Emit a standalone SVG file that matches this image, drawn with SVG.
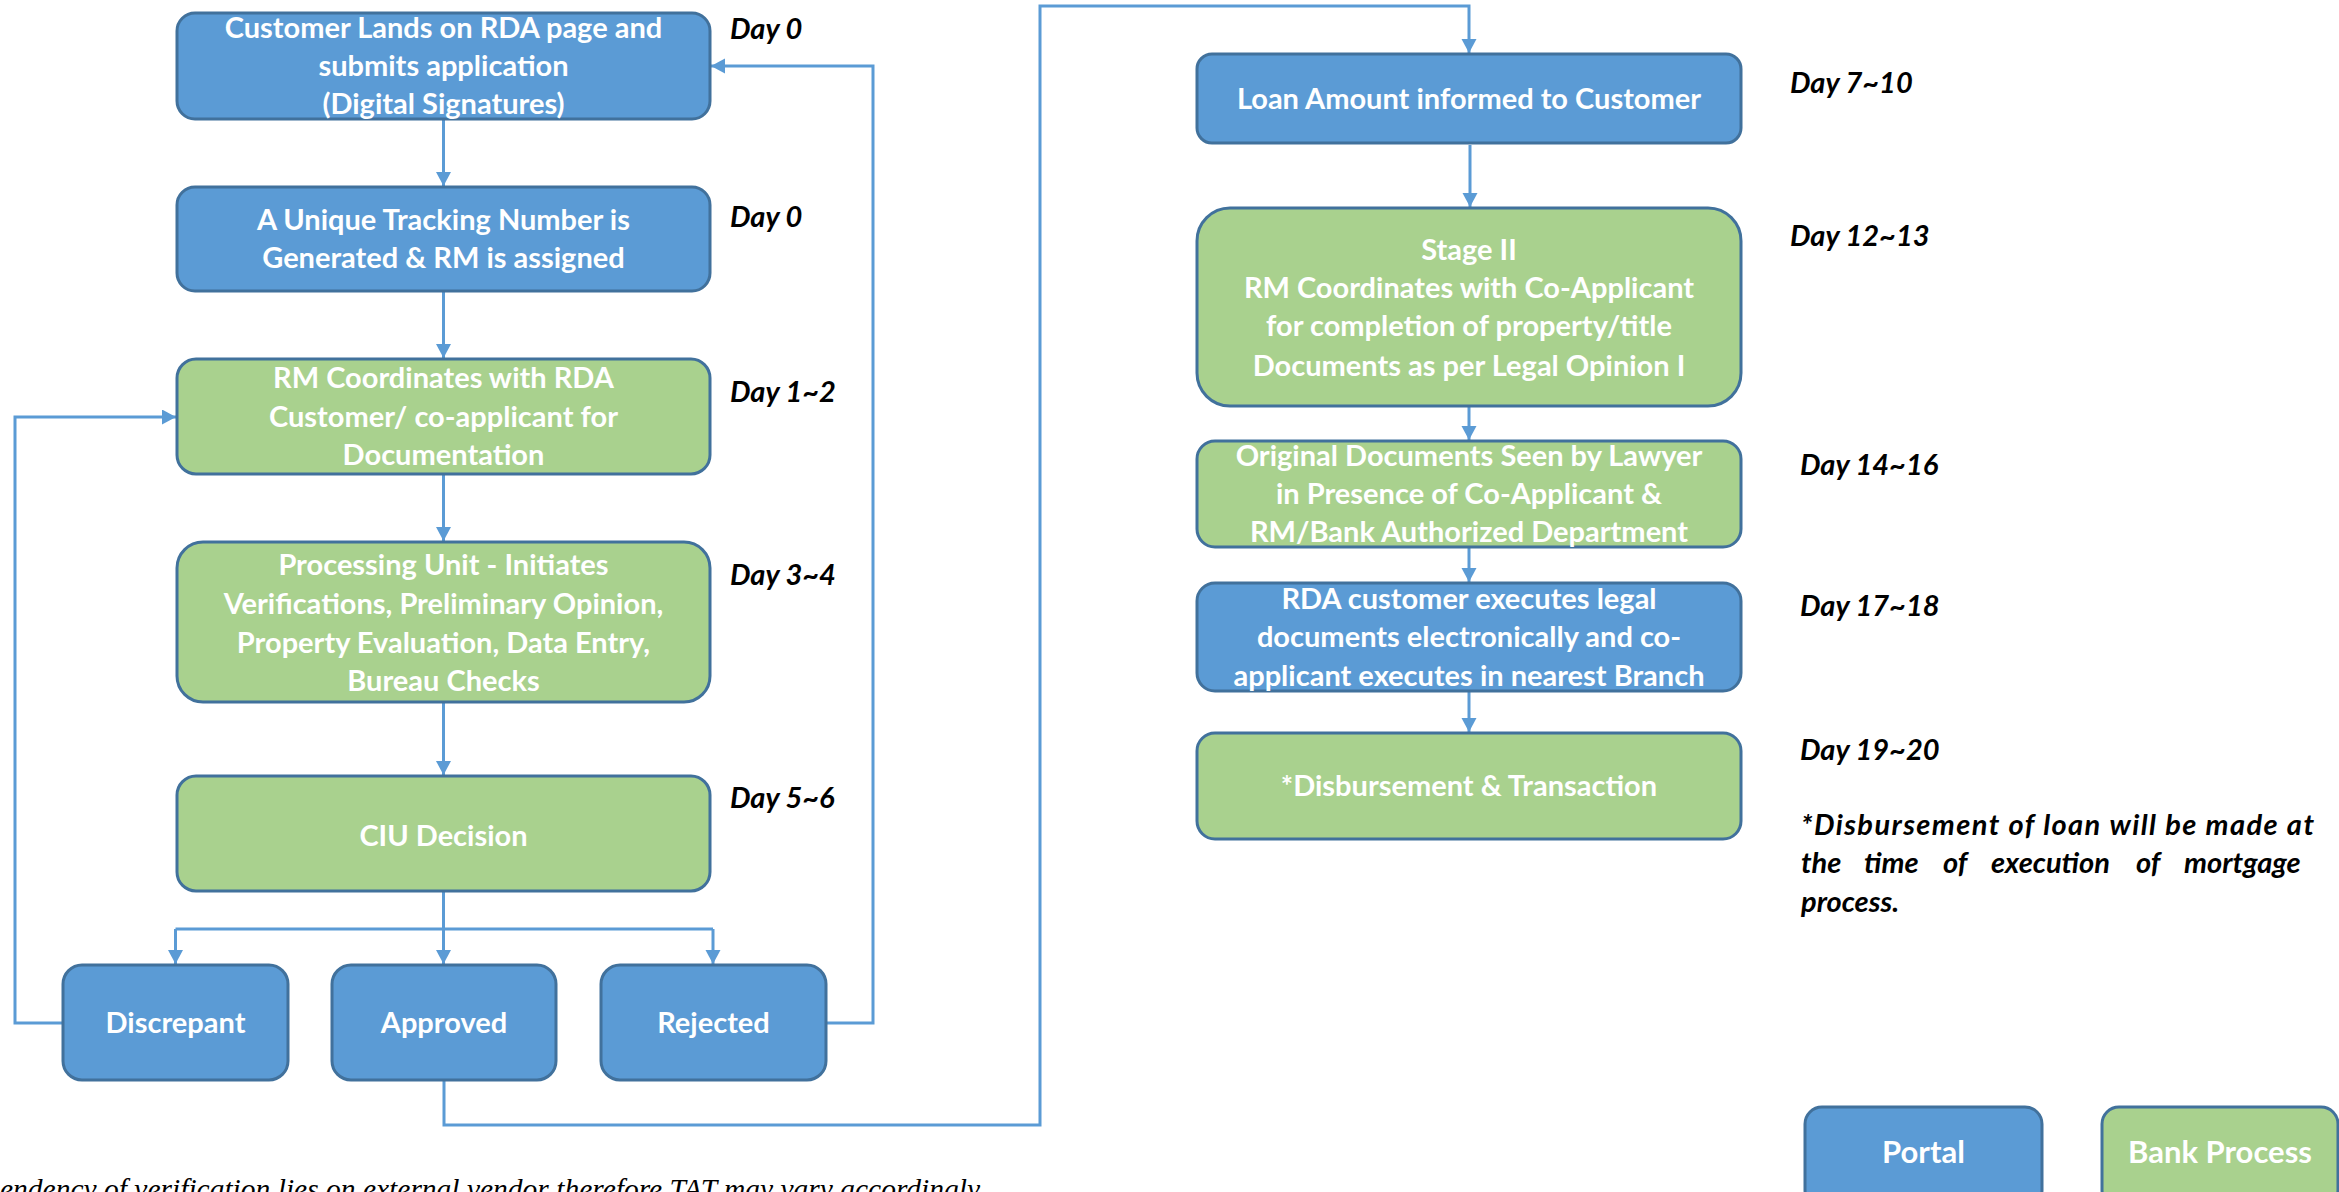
<svg xmlns="http://www.w3.org/2000/svg" width="2339" height="1192" viewBox="0 0 2339 1192">
<defs>
<style>
.blue{fill:#5B9BD5;stroke:#41719C;stroke-width:3}
.green{fill:#A9D18E;stroke:#41719C;stroke-width:3}
.bt{font-family:Lato,"Open Sans","Liberation Sans",sans-serif;font-weight:bold;font-size:29px;fill:#fff;text-anchor:middle}
.lg{font-size:31px}
.day{font-family:Lato,"Open Sans","Liberation Sans",sans-serif;font-weight:bold;font-style:italic;font-size:29px;fill:#000}
.foot{font-family:"Liberation Serif",serif;font-style:italic;font-size:29.5px;fill:#000}
.con{fill:none;stroke:#5B9BD5;stroke-width:3}
</style>
<marker id="ah" markerUnits="userSpaceOnUse" markerWidth="16" markerHeight="16" refX="14" refY="7.5" orient="auto">
<path d="M0,0 L14,7.5 L0,15 z" fill="#5B9BD5"/>
</marker>
</defs>
<rect width="2339" height="1192" fill="#fff"/>

<g id="connectors">
<path class="con" d="M443.5,119 V186" marker-end="url(#ah)"/>
<path class="con" d="M443.5,291 V358" marker-end="url(#ah)"/>
<path class="con" d="M443.5,474 V541" marker-end="url(#ah)"/>
<path class="con" d="M443.5,702 V775" marker-end="url(#ah)"/>
<path class="con" d="M443.5,891 V929"/>
<path class="con" d="M175.5,929 H713"/>
<path class="con" d="M175.5,929 V964" marker-end="url(#ah)"/>
<path class="con" d="M443.5,929 V964" marker-end="url(#ah)"/>
<path class="con" d="M713,929 V964" marker-end="url(#ah)"/>
<path class="con" d="M63,1023 H15 V417 H176" marker-end="url(#ah)"/>
<path class="con" d="M826,1023 H873 V66 H711" marker-end="url(#ah)"/>
<path class="con" d="M444,1080 V1125 H1040 V6 H1469 V53" marker-end="url(#ah)"/>
<path class="con" d="M1470,145 V207" marker-end="url(#ah)"/>
<path class="con" d="M1469,406 V440" marker-end="url(#ah)"/>
<path class="con" d="M1469,547 V582" marker-end="url(#ah)"/>
<path class="con" d="M1469,691 V732" marker-end="url(#ah)"/>
</g>

<g id="n1">
<rect class="blue" x="177" y="13" width="533" height="106" rx="18"/>
<text class="bt" x="443.5" y="38">Customer Lands on RDA page and</text>
<text class="bt" x="443.5" y="76">submits application</text>
<text class="bt" x="443.5" y="114">(Digital Signatures)</text>
</g>
<g id="n2">
<rect class="blue" x="177" y="187" width="533" height="104" rx="18"/>
<text class="bt" x="443.5" y="230">A Unique Tracking Number is</text>
<text class="bt" x="443.5" y="268">Generated &amp; RM is assigned</text>
</g>
<g id="n3">
<rect class="green" x="177" y="359" width="533" height="115" rx="19"/>
<text class="bt" x="443.5" y="388">RM Coordinates with RDA</text>
<text class="bt" x="443.5" y="427">Customer/ co-applicant for</text>
<text class="bt" x="443.5" y="465">Documentation</text>
</g>
<g id="n4">
<rect class="green" x="177" y="542" width="533" height="160" rx="26"/>
<text class="bt" x="443.5" y="575">Processing Unit - Initiates</text>
<text class="bt" x="443.5" y="614">Verifications, Preliminary Opinion,</text>
<text class="bt" x="443.5" y="653">Property Evaluation, Data Entry,</text>
<text class="bt" x="443.5" y="691">Bureau Checks</text>
</g>
<g id="n5">
<rect class="green" x="177" y="776" width="533" height="115" rx="19"/>
<text class="bt" x="443.5" y="846">CIU Decision</text>
</g>
<g id="n6">
<rect class="blue" x="63" y="965" width="225" height="115" rx="19"/>
<text class="bt" x="175.5" y="1033">Discrepant</text>
</g>
<g id="n7">
<rect class="blue" x="332" y="965" width="224" height="115" rx="19"/>
<text class="bt" x="444" y="1033">Approved</text>
</g>
<g id="n8">
<rect class="blue" x="601" y="965" width="225" height="115" rx="19"/>
<text class="bt" x="713.5" y="1033">Rejected</text>
</g>

<g id="days-left">
<text class="day" x="730" y="39">Day 0</text>
<text class="day" x="730" y="227">Day 0</text>
<text class="day" x="730" y="402">Day 1~2</text>
<text class="day" x="730" y="585">Day 3~4</text>
<text class="day" x="730" y="808">Day 5~6</text>
</g>

<g id="n9">
<rect class="blue" x="1197" y="54" width="544" height="89" rx="15"/>
<text class="bt" x="1469" y="109">Loan Amount informed to Customer</text>
</g>
<g id="n10">
<rect class="green" x="1197" y="208" width="544" height="198" rx="33"/>
<text class="bt" x="1469" y="260">Stage II</text>
<text class="bt" x="1469" y="298">RM Coordinates with Co-Applicant</text>
<text class="bt" x="1469" y="336">for completion of property/title</text>
<text class="bt" x="1469" y="376">Documents as per Legal Opinion I</text>
</g>
<g id="n11">
<rect class="green" x="1197" y="441" width="544" height="106" rx="18"/>
<text class="bt" x="1469" y="466">Original Documents Seen by Lawyer</text>
<text class="bt" x="1469" y="504">in Presence of Co-Applicant &amp;</text>
<text class="bt" x="1469" y="542">RM/Bank Authorized Department</text>
</g>
<g id="n12">
<rect class="blue" x="1197" y="583" width="544" height="108" rx="18"/>
<text class="bt" x="1469" y="609">RDA customer executes legal</text>
<text class="bt" x="1469" y="647">documents electronically and co-</text>
<text class="bt" x="1469" y="686">applicant executes in nearest Branch</text>
</g>
<g id="n13">
<rect class="green" x="1197" y="733" width="544" height="106" rx="18"/>
<text class="bt" x="1469" y="796">*Disbursement &amp; Transaction</text>
</g>

<g id="days-right">
<text class="day" x="1790" y="93">Day 7~10</text>
<text class="day" x="1790" y="246">Day 12~13</text>
<text class="day" x="1800" y="475">Day 14~16</text>
<text class="day" x="1800" y="616">Day 17~18</text>
<text class="day" x="1800" y="760">Day 19~20</text>
</g>

<g id="note">
<text class="day" x="1801" y="835" textLength="513" lengthAdjust="spacing">*Disbursement of loan will be made at</text>
<text class="day" y="873"><tspan x="1801">the</tspan><tspan x="1864">time</tspan><tspan x="1943">of</tspan><tspan x="1991">execution</tspan><tspan x="2136">of</tspan><tspan x="2184">mortgage</tspan></text>
<text class="day" x="1801" y="912">process.</text>
</g>

<g id="legend-portal">
<rect class="blue" x="1805" y="1107" width="237" height="100" rx="17"/>
<text class="bt lg" x="1923.5" y="1163">Portal</text>
</g>
<g id="legend-bank">
<rect class="green" x="2102" y="1107" width="236" height="100" rx="17"/>
<text class="bt lg" x="2220" y="1163">Bank Process</text>
</g>

<text class="foot" x="0" y="1199">endency of verification lies on external vendor therefore TAT may vary accordingly</text>
</svg>
